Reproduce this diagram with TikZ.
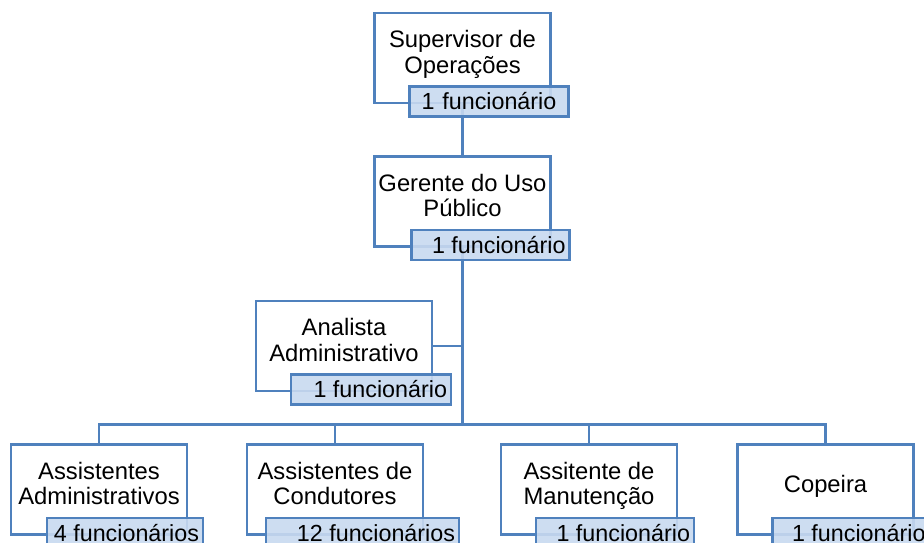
\documentclass[tikz,border=0pt]{standalone}
\usepackage{fontspec}
\setmainfont{Liberation Sans}
\usetikzlibrary{calc,backgrounds}
\definecolor{orgline}{RGB}{79,129,189}
\definecolor{orgfill}{RGB}{200,217,239}
\tikzset{>=latex,
  post/.style={draw=orgline, line width=2.5pt, minimum width=176pt, minimum height=90pt, align=center, inner sep=0pt, text depth=12pt, font=\fontsize{23.8}{25.5}\selectfont},
  staff/.style={draw=orgline, fill=orgfill, fill opacity=0.9, text opacity=1, line width=2.5pt, anchor=north west, minimum height=30pt, inner ysep=0pt, inner xsep=4pt, text width=#1, align=flush right},
  link/.style={draw=orgline, line width=2.5pt}}

\begin{document}
\begin{tikzpicture}[x=1pt, y=-1pt, font=\fontsize{23.3}{25}\selectfont]
    \useasboundingbox (0,0) rectangle (924,542);
    \node[post] (sup) at (462.5,58) {Supervisor de\\Operações};
    \node[post] (ger) at (462.5,201.5) {Gerente do Uso\\Público};
    \node[post] (ana) at (344,346) {Analista\\Administrativo};
    \node[post] (as1) at (99,489.5) {Assistentes\\Administrativos};
    \node[post] (as2) at (335,489.5) {Assistentes de\\Condutores};
    \node[post] (as3) at (589,489.5) {Assitente de\\Manutenção};
    \node[post] (as4) at (825.5,489.5) {Copeira};

    \node[staff=151pt, align=center] (supn) at ([xshift=35pt,yshift=19pt]sup.south west) {1 funcionário};
    \node[staff=150pt] (gern) at ([xshift=37pt,yshift=19pt]ger.south west) {1 funcionário};
    \node[staff=152pt] (anan) at ([xshift=35pt,yshift=19pt]ana.south west) {1 funcionário};
    \node[staff=148pt] (as1n) at ([xshift=36pt,yshift=19pt]as1.south west) {4 funcionários};
    \node[staff=185pt] (as2n) at ([xshift=19pt,yshift=19pt]as2.south west) {12 funcionários};
    \node[staff=150pt] (as3n) at ([xshift=35pt,yshift=19pt]as3.south west) {1 funcionário};
    \node[staff=149pt] (as4n) at ([xshift=35pt,yshift=19pt]as4.south west) {1 funcionário};

    \begin{scope}[on background layer]
        \draw[link] (sup) -- (ger);
        \path (ger.south) ++(0,176.5) coordinate (bus);
        \draw[link] (ger) -- (bus);
        \draw[link] (ana.east) -- (ana.east -| bus);
        \foreach \b in {as1,as2,as3,as4}
            \draw[link] (\b.north) |- (bus);
    \end{scope}
\end{tikzpicture}
\end{document}
